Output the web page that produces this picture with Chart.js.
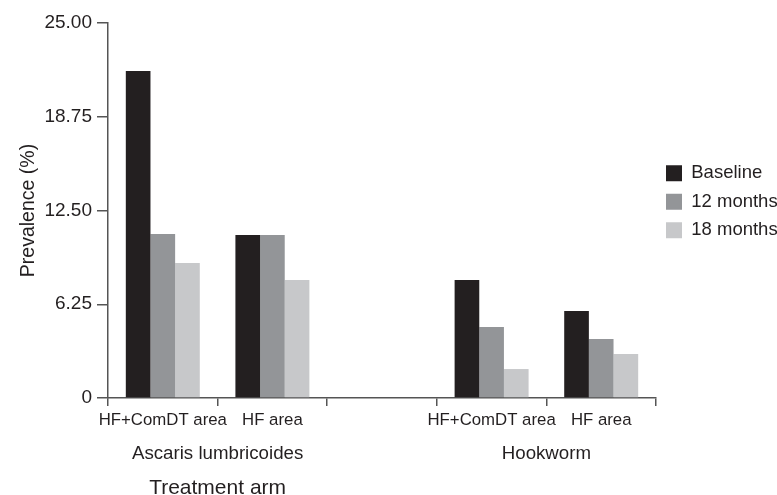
<!DOCTYPE html>
<html>
<head>
<meta charset="utf-8">
<script src="https://cdn.jsdelivr.net/npm/chart.js@4/dist/chart.umd.min.js"></script>
<style>
  html, body { margin: 0; padding: 0; background: #ffffff; }
  #c { display: block; }
</style>
</head>
<body>
<canvas id="c" width="777" height="495"></canvas>
<script>
// ---- data ----
const categories = ['HF+ComDT area', 'HF area', '', 'HF+ComDT area', 'HF area'];
const baseline   = [21.8, 10.87, null, 7.87, 5.8];
const months12   = [10.93, 10.87, null, 4.73, 3.93];
const months18   = [9.0, 7.87, null, 1.93, 2.93];
const seriesNames = ['Baseline', '12 months', '18 months'];
const yTickLabels = ['0', '6.25', '12.50', '18.75', '25.00'];
const groupLabels = ['Ascaris lumbricoides', 'Hookworm'];
const groupTickValues = [1, 4];
const xTitle = 'Treatment arm';
const yTitle = 'Prevalence (%)';

const FONT = "'Liberation Sans', Arial, Helvetica, sans-serif";
const TXT = '#231f20';
const AXIS = '#555555';

const xTitlePlugin = {
  id: 'xTitlePlugin',
  afterDraw(chart) {
    const ctx = chart.ctx;
    const s = chart.scales.x2;
    ctx.save();
    ctx.font = '21px ' + FONT;
    ctx.fillStyle = TXT;
    ctx.textAlign = 'center';
    ctx.textBaseline = 'middle';
    ctx.fillText(xTitle, s.getPixelForValue(groupTickValues[0]), chart.chartArea.bottom + 90);
    ctx.restore();
  }
};

new Chart(document.getElementById('c'), {
  type: 'bar',
  data: {
    labels: categories,
    datasets: [
      { label: seriesNames[0], data: baseline, backgroundColor: '#231f20' },
      { label: seriesNames[1], data: months12, backgroundColor: '#939598' },
      { label: seriesNames[2], data: months18, backgroundColor: '#c7c8ca' }
    ]
  },
  options: {
    responsive: false,
    animation: false,
    devicePixelRatio: 1,
    layout: { padding: { top: 23, left: 0, right: 0, bottom: 29 } },
    datasets: { bar: { categoryPercentage: 0.675, barPercentage: 1.0 } },
    plugins: {
      tooltip: { enabled: false },
      legend: {
        position: 'right',
        align: 'start',
        fullSize: false,
        maxWidth: 121,
        title: { display: true, text: '', font: { size: 10 }, padding: { top: 119, bottom: 0 } },
        labels: {
          boxWidth: 16,
          boxHeight: 16,
          padding: 10,
          color: TXT,
          font: { family: FONT, size: 18.5 }
        }
      }
    },
    scales: {
      x: {
        type: 'category',
        position: 'bottom',
        afterFit(scale) { scale.height = 32; },
        grid: { offset: true, drawOnChartArea: false, drawTicks: true, tickLength: 8, color: AXIS, lineWidth: 1.5 },
        border: { display: true, color: AXIS, width: 1.5 },
        ticks: { color: TXT, font: { family: FONT, size: 16.8 }, padding: 4, maxRotation: 0, autoSkip: false }
      },
      x2: {
        type: 'linear',
        position: 'bottom',
        min: 0,
        max: 5,
        offset: false,
        afterFit(scale) { scale.height = 36; },
        grid: { display: false, drawTicks: false, offset: false },
        border: { display: false },
        afterBuildTicks(scale) { scale.ticks = groupTickValues.map(v => ({ value: v })); },
        ticks: {
          color: TXT,
          font: { family: FONT, size: 18.7 },
          padding: 13,
          maxRotation: 0,
          autoSkip: false,
          callback: (v, i) => groupLabels[i]
        }
      },
      y: {
        type: 'linear',
        min: 0,
        max: 25,
        afterFit(scale) { scale.width = 108; },
        grid: { drawOnChartArea: false, drawTicks: true, tickLength: 11, color: AXIS, lineWidth: 1.5 },
        border: { display: true, color: AXIS, width: 1.5 },
        ticks: {
          stepSize: 6.25,
          color: TXT,
          font: { family: FONT, size: 19 },
          padding: 5,
          callback: (v, i) => yTickLabels[i]
        },
        title: {
          display: true,
          text: yTitle,
          color: TXT,
          font: { family: FONT, size: 19.5 },
          padding: { top: 17, bottom: 0 }
        }
      }
    }
  },
  plugins: [xTitlePlugin]
});
</script>
</body>
</html>
